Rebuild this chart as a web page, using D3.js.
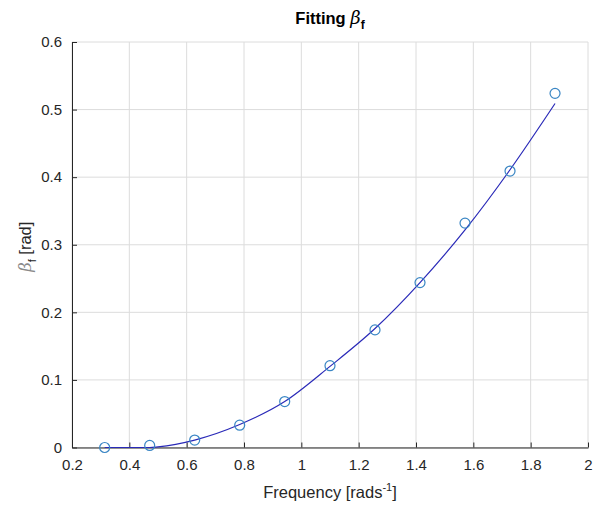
<!DOCTYPE html>
<html>
<head>
<meta charset="utf-8">
<script src="https://cdn.jsdelivr.net/npm/d3@7"></script>
<style>
  body { margin: 0; background: #fff; }
  svg { font-family: "Liberation Sans", Arial, sans-serif; }
</style>
</head>
<body>
<div id="graphic"></div>
<script>
// measured beta_f at each frequency
var freq = [0.314, 0.471, 0.628, 0.785, 0.942, 1.100, 1.257, 1.414, 1.571, 1.728, 1.885];
var betaF = [0.000, 0.003, 0.011, 0.033, 0.068, 0.121, 0.174, 0.244, 0.332, 0.409, 0.524];

// fitted curve, read at a set of frequencies
var fitFreq = [0.314, 0.471, 0.50, 0.628, 0.785, 0.942, 1.100, 1.257, 1.414, 1.571, 1.728, 1.885];
var fitBeta = [0.000, 0.000, 0.001, 0.011, 0.034, 0.068, 0.120, 0.176, 0.244, 0.322, 0.411, 0.509];

var xTicks = [0.2, 0.4, 0.6, 0.8, 1, 1.2, 1.4, 1.6, 1.8, 2];
var yTicks = [0, 0.1, 0.2, 0.3, 0.4, 0.5, 0.6];

var graphic = {};

graphic.create = function() {
  var width = 596, height = 506;
  var left = 72, right = 588, top = 42, bottom = 447.5;
  var axisCol = "#262626";

  var svg = d3.select("#graphic").append("svg")
    .attr("width", width).attr("height", height);

  var x = d3.scaleLinear().domain([0.2, 2]).range([left, right]);
  var y = d3.scaleLinear().domain([0, 0.6]).range([bottom, top]);

  // grid
  var grid = svg.append("g").attr("stroke", "#dcdcdc").attr("stroke-width", 1);
  grid.selectAll("line.gx").data(xTicks).enter().append("line")
    .attr("x1", function(d) { return x(d); }).attr("x2", function(d) { return x(d); })
    .attr("y1", top).attr("y2", bottom);
  grid.selectAll("line.gy").data(yTicks).enter().append("line")
    .attr("y1", function(d) { return y(d); }).attr("y2", function(d) { return y(d); })
    .attr("x1", left).attr("x2", right);

  // axes with inward ticks
  var xAxis = d3.axisBottom(x).tickValues(xTicks).tickSizeInner(-5).tickSizeOuter(0)
    .tickPadding(12).tickFormat(d3.format("~g"));
  var yAxis = d3.axisLeft(y).tickValues(yTicks).tickSizeInner(-5).tickSizeOuter(0)
    .tickPadding(10).tickFormat(d3.format("~g"));

  var gx = svg.append("g").attr("transform", "translate(0," + bottom + ")").call(xAxis);
  var gy = svg.append("g").attr("transform", "translate(" + left + ",0)").call(yAxis);
  [gx, gy].forEach(function(g) {
    g.selectAll("path, line").attr("stroke", axisCol);
    g.selectAll("text").attr("fill", axisCol).style("font-size", "15px")
      .style("font-family", "Liberation Sans, Arial, sans-serif");
  });

  // fitted curve
  var line = d3.line()
    .x(function(d) { return x(d[0]); })
    .y(function(d) { return y(d[1]); })
    .curve(d3.curveMonotoneX);
  svg.append("path")
    .datum(d3.zip(fitFreq, fitBeta))
    .attr("d", line)
    .attr("fill", "none")
    .attr("stroke", "#2a2ab8")
    .attr("stroke-width", 1.2);

  // data markers
  svg.selectAll("circle").data(d3.zip(freq, betaF)).enter().append("circle")
    .attr("cx", function(d) { return x(d[0]); })
    .attr("cy", function(d) { return y(d[1]); })
    .attr("r", 5)
    .attr("fill", "none")
    .attr("stroke", "#3a86c4")
    .attr("stroke-width", 1.2);

  // title
  var title = svg.append("text")
    .attr("x", (left + right) / 2).attr("y", 24)
    .attr("text-anchor", "middle")
    .style("font-size", "16.5px").style("font-weight", "bold").attr("fill", "#000");
  title.append("tspan").text("Fitting ");
  title.append("tspan").text("\u03b2").style("font-style", "italic")
    .style("font-family", "DejaVu Serif, serif").style("font-weight", "normal").style("font-size", "18px");
  title.append("tspan").text("f").attr("dy", 5).style("font-size", "12px");

  // x label
  var xl = svg.append("text")
    .attr("x", (left + right) / 2).attr("y", 498)
    .attr("text-anchor", "middle").attr("fill", axisCol)
    .style("font-size", "16.5px");
  xl.append("tspan").text("Frequency [rads");
  xl.append("tspan").text("-1").attr("dy", -7).style("font-size", "11px");
  xl.append("tspan").text("]").attr("dy", 7);

  // y label
  var yl = svg.append("text")
    .attr("transform", "translate(31," + ((top + bottom) / 2 + 2) + ") rotate(-90)")
    .attr("text-anchor", "middle").attr("fill", axisCol)
    .style("font-size", "16.5px");
  yl.append("tspan").text("\u03b2").style("font-style", "italic")
    .style("font-family", "DejaVu Serif, serif").attr("fill", "#8a8a8a");
  yl.append("tspan").text("f").attr("dy", 5).style("font-size", "11px");
  yl.append("tspan").text(" [rad]").attr("dy", -5);
};

graphic.create();
</script>
</body>
</html>
